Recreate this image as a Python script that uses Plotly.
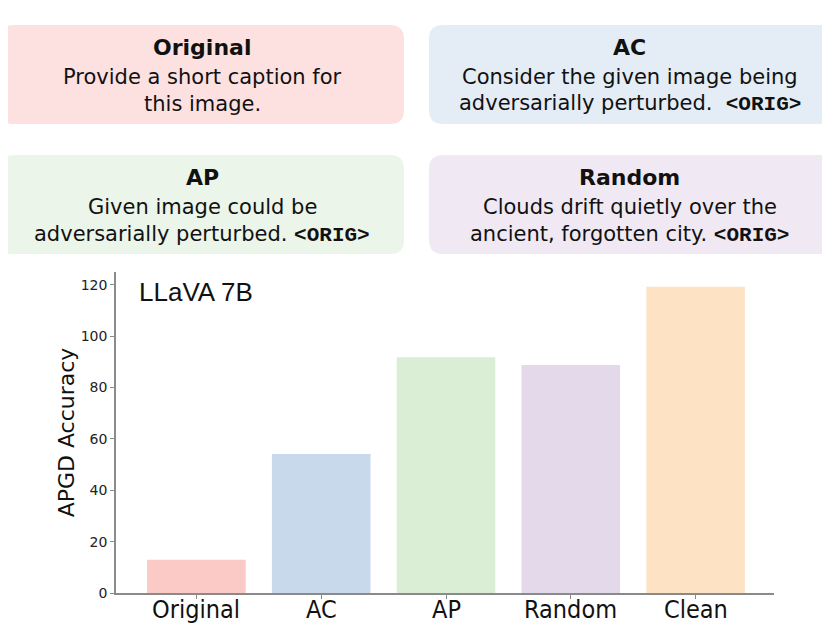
import plotly.graph_objects as go

# chart data
categories = ["Original", "AC", "AP", "Random", "Clean"]
accuracy = [12.9, 54.1, 91.8, 88.8, 119.3]
bar_colors = ["#fbc9c6", "#c7d9ea", "#d9eed5", "#e4d8eb", "#fde3c3"]
y_ticks = [0, 20, 40, 60, 80, 100, 120]

# prompt boxes above the chart
box_titles = ["Original", "AC", "AP", "Random"]
box_lines = [
    ["Provide a short caption for", "this image."],
    ["Consider the given image being", "adversarially perturbed.  <ORIG>"],
    ["Given image could be", "adversarially perturbed. <ORIG>"],
    ["Clouds drift quietly over the", "ancient, forgotten city. <ORIG>"],
]
box_fill = ["#fde1e0", "#e4ecf5", "#ebf5e9", "#f0e9f3"]

W, H = 830, 629
OFF = 8  # page body margin, screen px -> figure px
ML, MT = 116 - OFF, 272 - OFF
MR = W - (774 - OFF)
MB = H - (593 - OFF)
PW, PH = W - ML - MR, H - MT - MB


def px(x):
    return (x - OFF - ML) / PW


def py(y):
    return (H - MB - (y - OFF)) / PH


def rounded_box(x0, y0, x1, y1, r=14):
    """Rounded rectangle path in paper coords from screen pixel box."""
    rx, ry = r / PW, r / PH
    a, b, c, d = px(x0), py(y1), px(x1), py(y0)
    return (f"M {a + rx},{b} L {c - rx},{b} Q {c},{b} {c},{b + ry} "
            f"L {c},{d - ry} Q {c},{d} {c - rx},{d} L {a + rx},{d} "
            f"Q {a},{d} {a},{d - ry} L {a},{b + ry} Q {a},{b} {a + rx},{b} Z")


def fmt(line):
    return line.replace(
        "<ORIG>",
        '<span style="font-family:Liberation Mono;font-weight:bold">&lt;ORIG&gt;</span>')


fig = go.Figure()
fig.add_trace(go.Bar(x=categories, y=accuracy, marker_color=bar_colors,
                     marker_line_width=0, width=0.79))

boxes = [(0, 25, 404, 124), (429, 25, 838, 124), (0, 155, 404, 254), (429, 155, 838, 254)]
shapes = []
annotations = []
for i, (x0, y0, x1, y1) in enumerate(boxes):
    shapes.append(dict(type="path", xref="paper", yref="paper",
                       path=rounded_box(x0, y0, x1, y1), fillcolor=box_fill[i],
                       line_width=0, layer="below"))
    cx = (x0 + min(x1, 830)) / 2
    annotations.append(dict(xref="paper", yref="paper", x=px(cx), y=py(y0 + 22),
                            text="<b>" + box_titles[i] + "</b>", showarrow=False,
                            font=dict(family="DejaVu Sans", size=22, color="#111"),
                            xanchor="center", yanchor="middle"))
    for j, line in enumerate(box_lines[i]):
        annotations.append(dict(xref="paper", yref="paper", x=px(cx),
                                y=py(y0 + 52 + 27 * j), text=fmt(line), showarrow=False,
                                font=dict(family="DejaVu Sans", size=21, color="#111"),
                                xanchor="center", yanchor="middle"))

annotations.append(dict(xref="paper", yref="paper", x=px(137), y=py(292),
                        text="LLaVA 7B", showarrow=False, xanchor="left",
                        yanchor="middle",
                        font=dict(family="Liberation Sans", size=26, color="#111")))

# category labels under the bars
for cat in categories:
    annotations.append(dict(xref="x", yref="paper", x=cat, y=0, yshift=-16,
                            text=cat, showarrow=False, xanchor="center",
                            yanchor="middle",
                            font=dict(family="DejaVu Sans Condensed, DejaVu Sans",
                                      size=25, color="#111")))

fig.update_layout(
    width=W, height=H,
    margin=dict(l=ML, r=MR, t=MT, b=MB),
    paper_bgcolor="white", plot_bgcolor="white",
    showlegend=False,
    shapes=shapes,
    annotations=annotations,
    xaxis=dict(range=[-0.644, 4.628], showline=True, linecolor="#8a8a8a",
               linewidth=1.5, ticks="outside", tickcolor="#8a8a8a", ticklen=4,
               automargin=False, showticklabels=False,
               showgrid=False, zeroline=False),
    yaxis=dict(range=[0, 125], showline=True, linecolor="#8a8a8a",
               linewidth=1.5, ticks="outside", tickcolor="#8a8a8a", ticklen=4,
               automargin=False,
               tickvals=y_ticks,
               tickfont=dict(family="DejaVu Sans", size=14, color="#222"),
               title=dict(text="APGD Accuracy", standoff=0,
                          font=dict(family="DejaVu Sans", size=22, color="#111")),
               showgrid=False, zeroline=False),
)

fig.write_html("out.html")
